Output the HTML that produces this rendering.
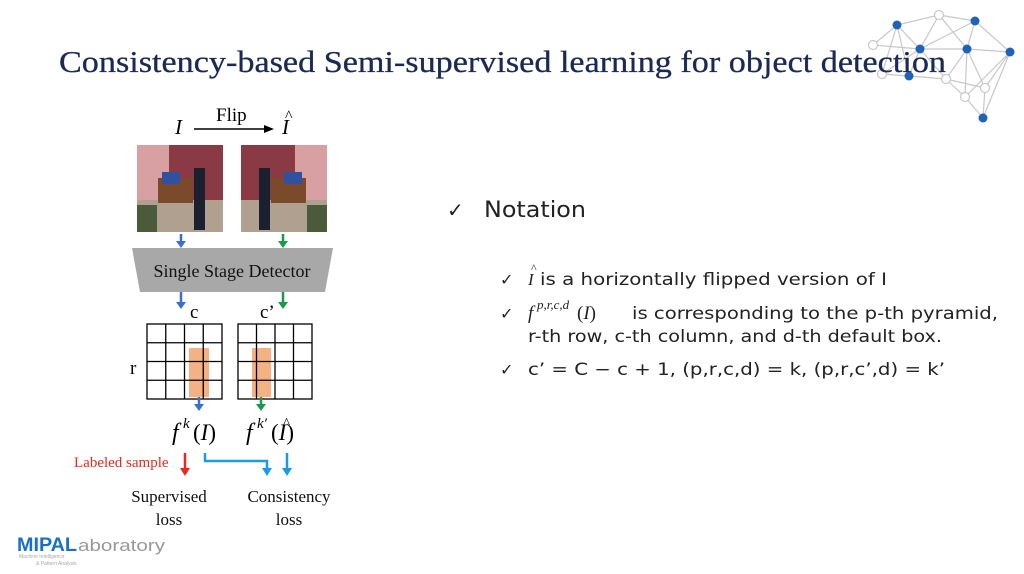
<!DOCTYPE html>
<html><head><meta charset="utf-8"><style>
html,body{margin:0;padding:0;background:#fff;}
svg{display:block;}
</style></head><body>
<svg width="1024" height="574" viewBox="0 0 1024 574" xmlns="http://www.w3.org/2000/svg">
<!-- network -->
<g stroke="#c8c8c8" stroke-width="1.2" fill="none">
<path d="M897,25L939,15L975,21L1010,52L983,118 M897,25L920,49L967,49L1010,52 M873,45L897,25L882,74L909,76L946,79L985,88L983,118 M939,15L920,49L909,76 M939,15L967,49L965,97L946,79L920,49 M975,21L967,49L985,88L1010,52 M873,45L920,49 M975,21L920,49 M882,74L920,49 M967,49L946,79 M965,97L983,118 M897,25L909,76 M1010,52L965,97"/>
</g>
<g fill="#1f63b8"><circle cx="897" cy="25" r="4.5"/><circle cx="920" cy="49" r="4.5"/><circle cx="975" cy="21" r="4.5"/><circle cx="967" cy="49" r="4.5"/><circle cx="1010" cy="52" r="4.5"/><circle cx="909" cy="76" r="4.5"/><circle cx="983" cy="118" r="4.5"/></g>
<g fill="#fff" stroke="#c8c8c8" stroke-width="1.2"><circle cx="939" cy="15" r="4.5"/><circle cx="873" cy="45" r="4.5"/><circle cx="882" cy="74" r="4.5"/><circle cx="946" cy="79" r="4.5"/><circle cx="985" cy="88" r="4.5"/><circle cx="965" cy="97" r="4.5"/></g>
<!-- title -->
<text x="59" y="72" font-family="Liberation Serif, serif" font-size="31" fill="#1a2a52" stroke="#1a2a52" stroke-width="0.3" textLength="887" lengthAdjust="spacingAndGlyphs">Consistency-based Semi-supervised learning for object detection</text>
<!-- flip -->
<g font-family="Liberation Serif, serif" fill="#000">
<text x="175" y="134" font-size="21" font-style="italic">I</text>
<text x="216" y="121" font-size="19">Flip</text>
<line x1="194" y1="129" x2="266" y2="129" stroke="#000" stroke-width="1.5"/>
<path d="M264,125 L274,129 L264,133z"/>
<text x="282" y="134" font-size="21" font-style="italic">I</text>
<text x="285" y="121" font-size="16">^</text>
</g>
<!-- photos -->
<g>
<rect x="137" y="145" width="86" height="87" fill="#8a3a44"/>
<rect x="137" y="145" width="32" height="55" fill="#d9a0a4"/>
<rect x="137" y="200" width="86" height="32" fill="#b0a090"/>
<rect x="158" y="178" width="35" height="25" fill="#7a4a2a"/>
<rect x="162" y="172" width="18" height="12" fill="#3050a0"/>
<rect x="194" y="168" width="11" height="62" fill="#1a2030"/>
<rect x="137" y="205" width="20" height="27" fill="#4a5a3a"/>
<rect x="241" y="145" width="86" height="87" fill="#8a3a44"/>
<rect x="295" y="145" width="32" height="55" fill="#d9a0a4"/>
<rect x="241" y="200" width="86" height="32" fill="#b0a090"/>
<rect x="271" y="178" width="35" height="25" fill="#7a4a2a"/>
<rect x="284" y="172" width="18" height="12" fill="#3050a0"/>
<rect x="259" y="168" width="11" height="62" fill="#1a2030"/>
<rect x="307" y="205" width="20" height="27" fill="#4a5a3a"/>
</g>
<line x1="181" y1="234" x2="181" y2="243" stroke="#3a6fd0" stroke-width="2.5"/><path d="M176,241 L186,241 L181,248z" fill="#3a6fd0"/>
<line x1="283" y1="234" x2="283" y2="243" stroke="#1a9a4a" stroke-width="2.5"/><path d="M278,241 L288,241 L283,248z" fill="#1a9a4a"/>
<path d="M132,248 L333,248 L325,292 L140,292z" fill="#a8a8a8"/>
<text x="232" y="277" text-anchor="middle" font-family="Liberation Serif, serif" font-size="18" fill="#111">Single Stage Detector</text>
<line x1="181" y1="292" x2="181" y2="304" stroke="#3a6fd0" stroke-width="2.5"/><path d="M176,302 L186,302 L181,309z" fill="#3a6fd0"/>
<line x1="283" y1="292" x2="283" y2="304" stroke="#1a9a4a" stroke-width="2.5"/><path d="M278,302 L288,302 L283,309z" fill="#1a9a4a"/>
<g font-family="Liberation Serif, serif" font-size="19" fill="#000">
<text x="190" y="318">c</text>
<text x="260" y="318">c’</text>
<text x="130" y="374">r</text>
</g>
<rect x="189" y="348" width="20" height="49" fill="#f4b183"/>
<rect x="252" y="348" width="19" height="49" fill="#f4b183"/>
<g stroke="#000" stroke-width="1.3" fill="none">
<rect x="147" y="324" width="75" height="75"/>
<path d="M165.75,324V399M184.5,324V399M203.25,324V399M147,342.75H222M147,361.5H222M147,380.25H222"/>
<rect x="238" y="324" width="74" height="75"/>
<path d="M256.5,324V399M275,324V399M293.5,324V399M238,342.75H312M238,361.5H312M238,380.25H312"/>
</g>
<line x1="199" y1="397" x2="199" y2="406" stroke="#3a6fd0" stroke-width="2.5"/><path d="M194,404 L204,404 L199,411z" fill="#3a6fd0"/>
<line x1="261" y1="397" x2="261" y2="406" stroke="#1a9a4a" stroke-width="2.5"/><path d="M256,404 L266,404 L261,411z" fill="#1a9a4a"/>
<g font-family="Liberation Serif, serif" fill="#000">
<text x="172" y="440" font-size="24" font-style="italic">f</text>
<text x="183" y="428" font-size="15" font-style="italic">k</text>
<text x="193" y="440" font-size="23">(<tspan font-style="italic">I</tspan>)</text>
<text x="246" y="440" font-size="24" font-style="italic">f</text>
<text x="257" y="428" font-size="15" font-style="italic">k′</text>
<text x="271" y="440" font-size="23">(<tspan font-style="italic">I</tspan>)</text>
<text x="283" y="428" font-size="15">^</text>
</g>
<text x="74" y="467" font-family="Liberation Serif, serif" font-size="15" fill="#e8291c">Labeled sample</text>
<line x1="185" y1="453" x2="185" y2="470" stroke="#e8291c" stroke-width="2.5"/><path d="M180,468 L190,468 L185,476z" fill="#e8291c"/>
<path d="M205,453 V461 H267 V470" fill="none" stroke="#1a9be8" stroke-width="2.5"/><path d="M262,468 L272,468 L267,476z" fill="#1a9be8"/>
<line x1="287" y1="453" x2="287" y2="470" stroke="#1a9be8" stroke-width="2.5"/><path d="M282,468 L292,468 L287,476z" fill="#1a9be8"/>
<g font-family="Liberation Serif, serif" font-size="17" fill="#111" text-anchor="middle">
<text x="169" y="502">Supervised</text><text x="169" y="525">loss</text>
<text x="289" y="502">Consistency</text><text x="289" y="525">loss</text>
</g>
<!-- logo -->
<text x="17" y="551" font-family="Liberation Sans, sans-serif" font-size="19" font-weight="bold" fill="#1a6fc8" textLength="60" lengthAdjust="spacingAndGlyphs">MIPAL</text>
<text x="78" y="551" font-family="Liberation Sans, sans-serif" font-size="17" fill="#999" textLength="87" lengthAdjust="spacingAndGlyphs">aboratory</text>
<text x="19" y="558" font-family="Liberation Sans, sans-serif" font-size="5" fill="#aaa">Machine Intelligence</text>
<text x="36" y="565" font-family="Liberation Sans, sans-serif" font-size="5" fill="#aaa">&amp; Pattern Analysis</text>
<!-- right text -->
<g font-family="'DejaVu Sans', 'Liberation Sans', sans-serif" fill="#222">
<text x="447" y="217" font-size="20">✓</text>
<text x="484" y="217" font-size="22" textLength="102" lengthAdjust="spacingAndGlyphs">Notation</text>
<text x="500" y="285" font-size="16">✓</text>
<text x="500" y="319" font-size="16">✓</text>
<text x="500" y="375" font-size="16">✓</text>
<g font-size="17">
<text x="528" y="285"><tspan font-family="Liberation Serif, serif" font-style="italic">I</tspan></text>
<text x="531" y="272" font-size="12" font-family="Liberation Serif, serif">^</text>
<text x="540" y="285" textLength="347" lengthAdjust="spacingAndGlyphs">is a horizontally flipped version of I</text>
<text x="528" y="319" font-family="Liberation Serif, serif" font-style="italic" font-size="19">f</text>
<text x="537" y="309" font-size="13" font-family="Liberation Serif, serif" font-style="italic">p,r,c,d</text>
<text x="577" y="319" font-family="Liberation Serif, serif" font-size="19">(<tspan font-style="italic">I</tspan>)</text>
<text x="632" y="319" textLength="366" lengthAdjust="spacingAndGlyphs">is corresponding to the p-th pyramid,</text>
<text x="528" y="342" textLength="414" lengthAdjust="spacingAndGlyphs">r-th row, c-th column, and d-th default box.</text>
<text x="528" y="375" textLength="417" lengthAdjust="spacingAndGlyphs">c’ = C − c + 1,  (p,r,c,d) = k,  (p,r,c’,d) = k’</text>
</g>
</g>
</svg>
</body></html>
